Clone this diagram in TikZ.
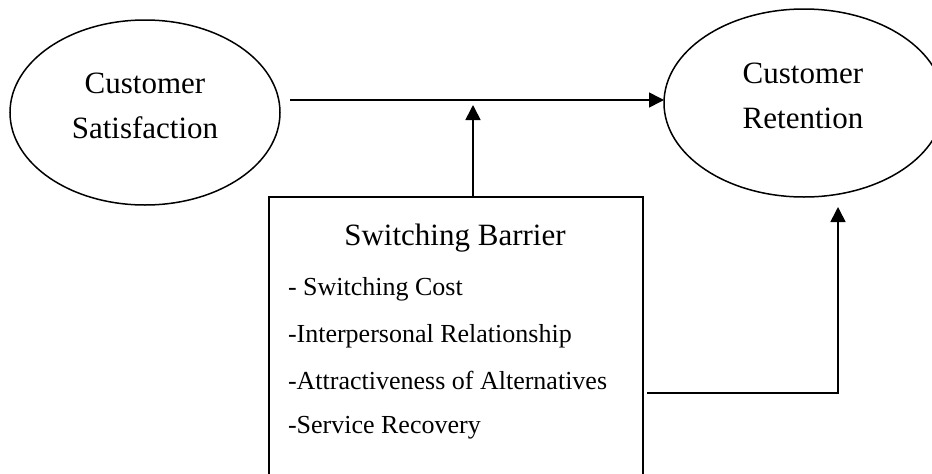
\documentclass[tikz,border=0pt]{standalone}
\usepackage{fontspec}
\setmainfont{Liberation Serif}
\usetikzlibrary{arrows.meta,shapes.geometric}
\begin{document}
\begin{tikzpicture}[x=1pt,y=-1pt,
  every node/.style={inner sep=0pt, outer sep=0pt},
  bubble/.style={draw, ellipse, line width=1.5pt},
  bubbletext/.style={align=center, font=\fontsize{31}{45}\selectfont},
  barrierbox/.style={draw, rectangle, line width=1.6pt},
  titletext/.style={anchor=base, font=\fontsize{31}{36}\selectfont},
  itemtext/.style={anchor=base west, font=\fontsize{26}{30}\selectfont},
  link/.style={line width=1.6pt, -{Triangle[length=15pt,width=15pt]}}
]
\useasboundingbox (0,0) rectangle (932,474);
\clip (0,0) rectangle (932,474);

% the two constructs
\node[bubble, minimum width=270, minimum height=185] (sat) at (145,112.5) {};
\node[bubbletext] (satlabel) at (145,106) {Customer\\Satisfaction};
\node[bubble, minimum width=280, minimum height=188] (ret) at (804,103) {};
\node[bubbletext] (retlabel) at (803,96) {Customer\\Retention};

% moderating box (runs past the lower edge)
\node[barrierbox, minimum width=374, minimum height=290] (sb) at (456,342) {};
\node[titletext] (sbtitle) at (455,245) {Switching Barrier};
\node[itemtext] (it1) at (288,295) {- Switching Cost};
\node[itemtext] (it2) at (288,342) {-Interpersonal Relationship};
\node[itemtext] (it3) at (288,389) {-Attractiveness of Alternatives};
\node[itemtext] (it4) at (288,433) {-Service Recovery};

% connectors
\coordinate (hs) at (290,100);
\coordinate (mid) at (473,105);
\coordinate (rs) at (647,393);
\coordinate (rt) at (838,207);

\draw[link] (hs) -- (ret.west |- hs);
\draw[link] (sb.north -| mid) -- (mid);
\draw[link] ([xshift=4pt]sb.east |- rs) -| (rt);
\end{tikzpicture}
\end{document}
